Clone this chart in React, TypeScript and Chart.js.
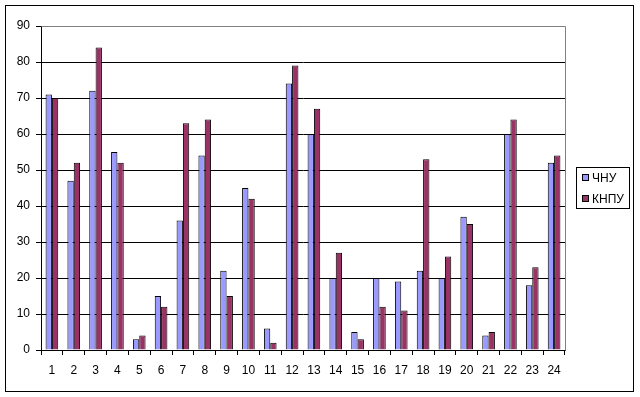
import React, { useEffect, useRef } from "react";
import { Chart, registerables } from "chart.js";

Chart.register(...registerables);

const categories = ["1","2","3","4","5","6","7","8","9","10","11","12","13","14","15","16","17","18","19","20","21","22","23","24"];
const chnuValues = [71, 47, 72, 55, 3, 15, 36, 54, 22, 45, 6, 74, 60, 20, 5, 20, 19, 22, 20, 37, 4, 60, 18, 52];
const knpuValues = [70, 52, 84, 52, 4, 12, 63, 64, 15, 42, 2, 79, 67, 27, 3, 12, 11, 53, 26, 35, 5, 64, 23, 54];
const seriesLabels = ["ЧНУ", "КНПУ"];
const seriesColors = ["#9999FF", "#993366"];

const FONT = "'Liberation Sans', Arial, sans-serif";

const framePlugin = {
  id: "frame",
  afterDraw(chart: any) {
    const ctx = chart.ctx;
    const a = chart.chartArea;
    ctx.save();
    // outer border
    ctx.strokeStyle = "#000";
    ctx.lineWidth = 1;
    ctx.strokeRect(5.5, 5.5, 628, 386);
    // plot area grey border top/right
    ctx.strokeStyle = "#808080";
    ctx.beginPath();
    ctx.moveTo(Math.round(a.left) + 0.5, Math.round(a.top) + 0.5);
    ctx.lineTo(Math.round(a.right) + 0.5, Math.round(a.top) + 0.5);
    ctx.lineTo(Math.round(a.right) + 0.5, Math.round(a.bottom) + 0.5);
    ctx.stroke();
    // legend
    const lx = 576.5, ly = 167.5, lw = 53, lh = 41;
    ctx.strokeStyle = "#000";
    ctx.fillStyle = "#fff";
    ctx.fillRect(lx, ly, lw, lh);
    ctx.strokeRect(lx, ly, lw, lh);
    ctx.font = "12px " + FONT;
    ctx.textBaseline = "middle";
    chart.data.datasets.forEach((ds: any, i: number) => {
      const cy = 178 + i * 21;
      ctx.fillStyle = ds.backgroundColor;
      ctx.fillRect(582, cy - 3, 6, 6);
      ctx.strokeStyle = "#000";
      ctx.strokeRect(582.5, cy - 3.5, 6, 6);
      ctx.fillStyle = "#000";
      ctx.fillText(ds.label, 592, cy + 1);
    });
    ctx.restore();
  },
};

export default function App() {
  const ref = useRef<HTMLCanvasElement>(null);
  useEffect(() => {
    document.body.style.margin = "0";
    const chart = new Chart(ref.current!, {
      type: "bar",
      data: {
        labels: categories,
        datasets: [
          { label: seriesLabels[0], data: chnuValues, backgroundColor: seriesColors[0], borderColor: "#000", borderWidth: 1 },
          { label: seriesLabels[1], data: knpuValues, backgroundColor: seriesColors[1], borderColor: "#000", borderWidth: 1 },
        ],
      },
      options: {
        animation: false,
        responsive: false,
        maintainAspectRatio: false,
        layout: { padding: { left: 0, top: 26, right: 75, bottom: 0 } },
        plugins: { legend: { display: false }, tooltip: { enabled: false } },
        datasets: { bar: { categoryPercentage: 0.58, barPercentage: 1 } },
        scales: {
          x: {
            grid: { display: true, drawOnChartArea: false, drawTicks: true, tickLength: 5, color: "#000", offset: true },
            border: { display: true, color: "#000", width: 1 },
            ticks: { color: "#000", font: { size: 12, family: FONT }, padding: 8, maxRotation: 0, autoSkip: false },
            afterFit(scale: any) { scale.height = 47; },
          },
          y: {
            min: 0,
            max: 90,
            ticks: { stepSize: 10, color: "#000", font: { size: 12, family: FONT }, padding: 6 },
            grid: {
              color: (c: any) => (c.tick && c.tick.value === 90 ? "#808080" : "#000"),
              tickColor: "#000",
              tickLength: 5,
              drawTicks: true,
            },
            border: { display: true, color: "#000", width: 1 },
            afterFit(scale: any) { scale.width = 41; },
          },
        },
      },
      plugins: [framePlugin],
    });
    return () => chart.destroy();
  }, []);
  return <canvas ref={ref} width={640} height={397} style={{ display: "block" }} />;
}
